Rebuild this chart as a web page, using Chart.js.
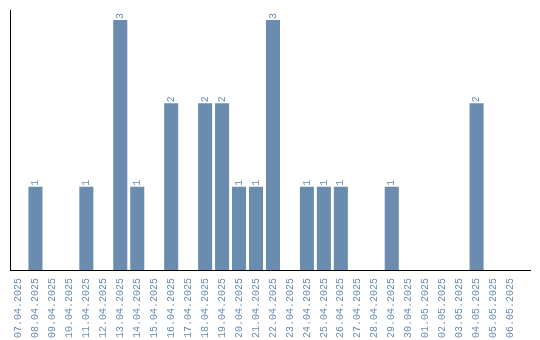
<!DOCTYPE html>
<html>
<head>
<meta charset="utf-8">
<script src="https://cdn.jsdelivr.net/npm/chart.js@4/dist/chart.umd.min.js"></script>
<style>
  body { margin: 0; background: #fff; }
  #wrap { width: 540px; height: 340px; }
</style>
</head>
<body>
<div id="wrap"><canvas id="dayChart"></canvas></div>
<script>
const days = [
  '07.04.2025', '08.04.2025', '09.04.2025', '10.04.2025', '11.04.2025',
  '12.04.2025', '13.04.2025', '14.04.2025', '15.04.2025', '16.04.2025',
  '17.04.2025', '18.04.2025', '19.04.2025', '20.04.2025', '21.04.2025',
  '22.04.2025', '23.04.2025', '24.04.2025', '25.04.2025', '26.04.2025',
  '27.04.2025', '28.04.2025', '29.04.2025', '30.04.2025', '01.05.2025',
  '02.05.2025', '03.05.2025', '04.05.2025', '05.05.2025', '06.05.2025'
];
const counts = [0, 1, 0, 0, 1, 0, 3, 1, 0, 2, 0, 2, 2, 1, 1, 3, 0, 1, 1, 1, 0, 0, 1, 0, 0, 0, 0, 2, 0, 0];

const blue = '#6a8caf';

// small rotated number above each non-empty bar
const barLabels = {
  id: 'barLabels',
  afterDatasetsDraw(chart) {
    const ctx = chart.ctx;
    const meta = chart.getDatasetMeta(0);
    ctx.save();
    ctx.fillStyle = blue;
    ctx.font = '10px "Liberation Mono", monospace';
    ctx.textAlign = 'left';
    ctx.textBaseline = 'middle';
    meta.data.forEach((bar, i) => {
      const v = counts[i];
      if (!v) return;
      ctx.save();
      ctx.translate(bar.x, bar.y - 1);
      ctx.rotate(-Math.PI / 2);
      ctx.fillText(String(v), 0, 0);
      ctx.restore();
    });
    ctx.restore();
  }
};

// the baseline runs a bit past the last category
const baseline = {
  id: 'baseline',
  afterDraw(chart) {
    const { ctx, chartArea } = chart;
    ctx.save();
    ctx.strokeStyle = '#000';
    ctx.lineWidth = 1;
    ctx.beginPath();
    ctx.moveTo(chartArea.left, chartArea.bottom + 0.5);
    ctx.lineTo(chartArea.right + 12, chartArea.bottom + 0.5);
    ctx.stroke();
    ctx.restore();
  }
};

new Chart(document.getElementById('dayChart'), {
  type: 'bar',
  data: {
    labels: days,
    datasets: [{
      data: counts,
      backgroundColor: blue,
      borderWidth: 0,
      barPercentage: 0.9,
      categoryPercentage: 0.92
    }]
  },
  options: {
    responsive: true,
    maintainAspectRatio: false,
    animation: false,
    layout: { padding: { left: 10, right: 21, top: 10, bottom: 0 } },
    plugins: {
      legend: { display: false },
      tooltip: { enabled: false }
    },
    scales: {
      x: {
        grid: { display: false },
        border: { display: false },
        afterFit(scale) { scale.height = 70; },
        ticks: {
          color: blue,
          font: { family: '"Liberation Mono", monospace', size: 10 },
          minRotation: 90,
          maxRotation: 90,
          autoSkip: false,
          padding: 0
        }
      },
      y: {
        min: 0,
        max: 3.12,
        grid: { display: false },
        border: { color: '#000', width: 1 },
        afterFit(scale) { scale.width = 0; },
        ticks: { display: false }
      }
    }
  },
  plugins: [barLabels, baseline]
});
</script>
</body>
</html>
